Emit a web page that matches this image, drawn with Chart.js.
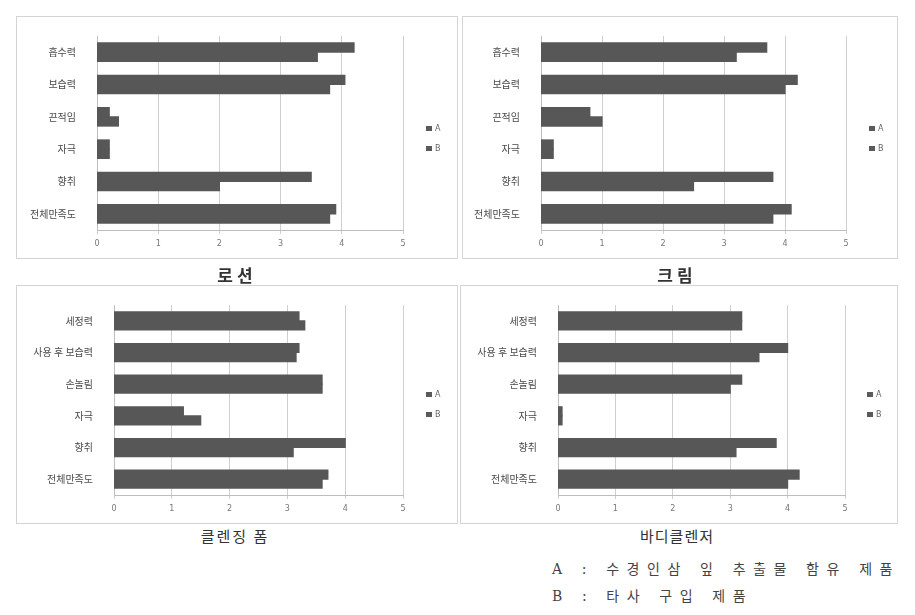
<!DOCTYPE html>
<html>
<head>
<meta charset="utf-8">
<script src="https://cdn.jsdelivr.net/npm/chart.js@4.4.1/dist/chart.umd.min.js"></script>
<style>
  body { margin: 0; background: #fff; width: 915px; height: 615px; position: relative; overflow: hidden;
         font-family: "Noto Sans CJK KR", "Noto Sans", sans-serif; }
  .box { position: absolute; border: 1px solid #d4d4d4; box-sizing: border-box; }
  .box canvas { position: absolute; left: 0; top: 0; }
  .legend { position: absolute; font: 8px "DejaVu Sans", sans-serif; color: #666; }
  .legend div { height: 20px; line-height: 8px; }
  .legend span { display: inline-block; width: 6px; height: 5px; background: #5a5a5a; margin-right: 3px; vertical-align: 0; }
  .caption { position: absolute; width: 300px; text-align: center; color: #333; }
  .note { position: absolute; left: 552px; font: 14px "DejaVu Serif", "Noto Sans CJK KR", serif; color: #444; letter-spacing: 7.6px; white-space: nowrap; }
</style>
</head>
<body>

<div class="box" id="p1" style="left:16px;top:16px;width:442px;height:243px;"><canvas id="c1"></canvas></div>
<div class="box" id="p2" style="left:462px;top:16px;width:436px;height:243px;"><canvas id="c2"></canvas></div>
<div class="box" id="p3" style="left:16px;top:285px;width:442px;height:239px;"><canvas id="c3"></canvas></div>
<div class="box" id="p4" style="left:460px;top:285px;width:438px;height:239px;"><canvas id="c4"></canvas></div>

<div class="legend" style="left:426px;top:125px;"><div><span></span>A</div><div><span></span>B</div></div>
<div class="legend" style="left:869px;top:125px;"><div><span></span>A</div><div><span></span>B</div></div>
<div class="legend" style="left:426px;top:391px;"><div><span></span>A</div><div><span></span>B</div></div>
<div class="legend" style="left:867px;top:391px;"><div><span></span>A</div><div><span></span>B</div></div>

<div class="caption" style="left:87px;top:262px;font:bold 17px 'Noto Sans CJK KR';letter-spacing:4px;">로션</div>
<div class="caption" style="left:527px;top:262px;font:bold 17px 'Noto Sans CJK KR';letter-spacing:4px;">크림</div>
<div class="caption" style="left:85px;top:525px;font:15px 'Noto Sans CJK KR';letter-spacing:2px;">클렌징 폼</div>
<div class="caption" style="left:527px;top:525px;font:15px 'Noto Sans CJK KR';letter-spacing:1px;">바디클렌저</div>

<div class="note" style="top:558px;">A : 수경인삼 잎 추출물 함유 제품</div>
<div class="note" style="top:585px;">B : 타사 구입 제품</div>

<script>
const skinLabels = ['흡수력', '보습력', '끈적임', '자극', '향취', '전체만족도'];
const washLabels = ['세정력', '사용 후 보습력', '손놀림', '자극', '향취', '전체만족도'];
const xTicks = [0, 1, 2, 3, 4, 5];

const lotionA = [4.2, 4.05, 0.2, 0.2, 3.5, 3.9];
const lotionB = [3.6, 3.8, 0.35, 0.2, 2.0, 3.8];

const creamA = [3.7, 4.2, 0.8, 0.2, 3.8, 4.1];
const creamB = [3.2, 4.0, 1.0, 0.2, 2.5, 3.8];

const foamA = [3.2, 3.2, 3.6, 1.2, 4.0, 3.7];
const foamB = [3.3, 3.15, 3.6, 1.5, 3.1, 3.6];

const bodyA = [3.2, 4.0, 3.2, 0.07, 3.8, 4.2];
const bodyB = [3.2, 3.5, 3.0, 0.07, 3.1, 4.0];

function renderPanel(canvasId, labels, a, b, geo) {
    const canvas = document.getElementById(canvasId);
    const box = canvas.parentElement;
    canvas.width = box.clientWidth;
    canvas.height = box.clientHeight;

    return new Chart(canvas.getContext('2d'), {
        type: 'bar',
        data: {
            labels,
            datasets: [
                { label: 'A', data: a, backgroundColor: '#575757', borderWidth: 0, inflateAmount: 0.6 },
                { label: 'B', data: b, backgroundColor: '#575757', borderWidth: 0, inflateAmount: 0.6 },
            ],
        },
        options: {
            indexAxis: 'y',
            responsive: false,
            animation: false,
            barPercentage: 1,
            categoryPercentage: 0.57,
            layout: { padding: { top: geo.top, right: geo.right, left: 0, bottom: 0 } },
            plugins: { legend: { display: false }, tooltip: { enabled: false } },
            scales: {
                x: {
                    min: 0,
                    max: 5,
                    afterBuildTicks: (scale) => { scale.ticks = xTicks.map((v) => ({ value: v })); },
                    afterFit: (scale) => { scale.height = 28; },
                    grid: { color: '#cfcfcf', tickLength: 4, drawTicks: true },
                    border: { color: '#bdbdbd' },
                    ticks: { color: '#777', padding: 5, font: { size: 8, family: 'DejaVu Sans' } },
                },
                y: {
                    afterFit: (scale) => { scale.width = geo.left; },
                    grid: { display: false },
                    border: { color: '#bdbdbd' },
                    ticks: { color: '#4a4a4a', padding: 13, font: { size: 10, family: 'Noto Sans CJK KR' } },
                },
            },
        },
    });
}

renderPanel('c1', skinLabels, lotionA, lotionB, { left: 80, top: 13, right: 54 });
renderPanel('c2', skinLabels, creamA, creamB, { left: 78, top: 13, right: 51 });
renderPanel('c3', washLabels, foamA, foamB, { left: 97, top: 11, right: 54 });
renderPanel('c4', washLabels, bodyA, bodyB, { left: 97, top: 11, right: 52 });
</script>
</body>
</html>
